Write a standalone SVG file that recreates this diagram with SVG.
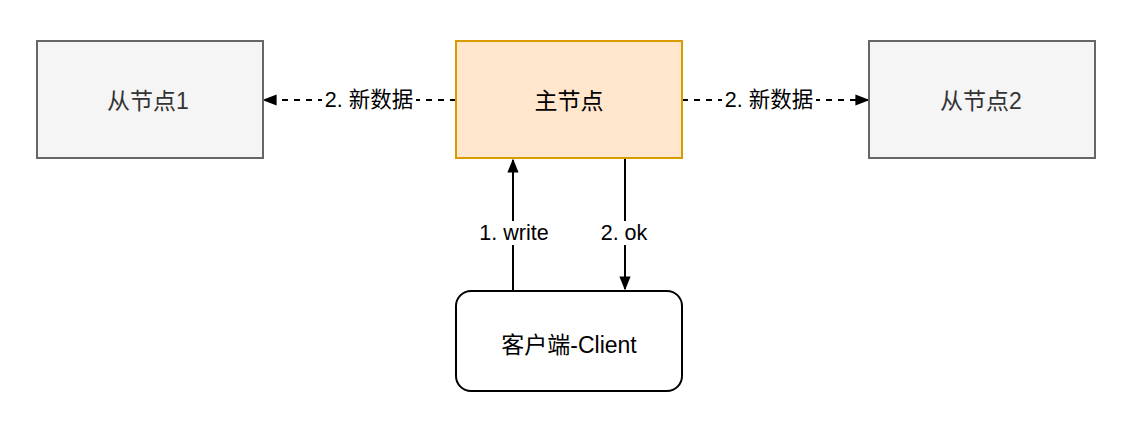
<svg xmlns="http://www.w3.org/2000/svg" width="1132" height="422" viewBox="0 0 1132 422">
<style>
.t{font-family:"Liberation Sans","Noto Sans CJK SC",sans-serif;font-size:23px;text-anchor:middle;dominant-baseline:central}
.l{font-family:"Liberation Sans","Noto Sans CJK SC",sans-serif;font-size:21.5px;text-anchor:middle;dominant-baseline:central;fill:#000}
.slave{fill:#f5f5f5;stroke:#666;stroke-width:2}
.c{fill:none;stroke:#000;stroke-width:2}
.d{stroke-dasharray:6 6}
</style>
<defs>
<marker id="a" viewBox="0 0 10 10" refX="9" refY="5" markerWidth="14" markerHeight="14" markerUnits="userSpaceOnUse" orient="auto"><path d="M0,1 L10,5 L0,9 Z" fill="#000"/></marker>
<marker id="b" viewBox="0 0 10 10" refX="9" refY="5" markerWidth="14" markerHeight="14" markerUnits="userSpaceOnUse" orient="auto"><path d="M0,1 L10,5 L0,9 Z" fill="#000"/></marker>
</defs>
<g id="connectors">
<path class="c d" d="M456,100 L264,100" marker-end="url(#b)"/>
<path class="c d" d="M682,100 L868,100" marker-end="url(#b)"/>
<path class="c" d="M513,291 L513,160" marker-end="url(#a)"/>
<path class="c" d="M625,158 L625,289" marker-end="url(#a)"/>
<rect x="322" y="88" width="94" height="24" fill="#fff"/>
<text class="l" x="369" y="100">2. 新数据</text>
<rect x="722" y="88" width="94" height="24" fill="#fff"/>
<text class="l" x="769" y="100">2. 新数据</text>
<rect x="478" y="221" width="72" height="24" fill="#fff"/>
<text class="l" x="514" y="233">1. write</text>
<rect x="598" y="221" width="52" height="24" fill="#fff"/>
<text class="l" x="624" y="233">2. ok</text>
</g>
<g id="slave1">
<rect class="slave" x="37" y="41" width="226" height="117"/>
<text class="t" x="148" y="101" fill="#333">从节点1</text>
</g>
<g id="master">
<rect x="456" y="41" width="226" height="117" fill="#ffe6cc" stroke="#d79b00" stroke-width="2"/>
<text class="t" x="569" y="101" fill="#000">主节点</text>
</g>
<g id="slave2">
<rect class="slave" x="869" y="41" width="226" height="117"/>
<text class="t" x="981" y="101" fill="#333">从节点2</text>
</g>
<g id="client">
<rect x="456" y="291" width="226" height="100" rx="15" ry="15" fill="#fff" stroke="#000" stroke-width="2"/>
<text class="t" x="569" y="345" fill="#000">客户端-Client</text>
</g>
</svg>
